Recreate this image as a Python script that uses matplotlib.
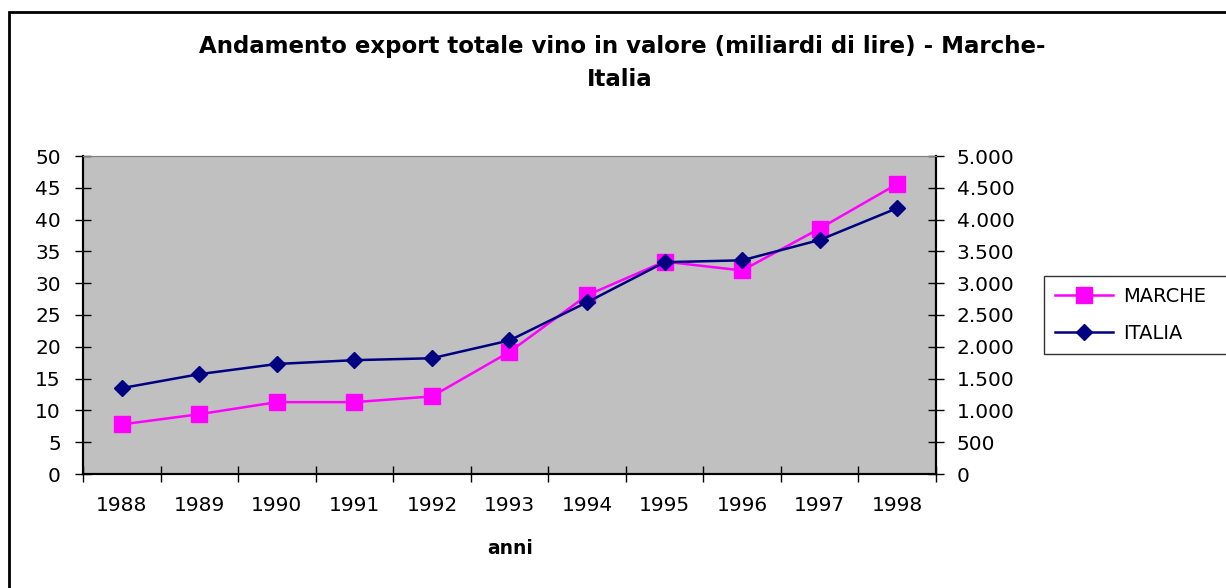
import matplotlib
matplotlib.use("Agg")
import matplotlib.pyplot as plt
from matplotlib.patches import Rectangle
from matplotlib.ticker import FuncFormatter

# data
anni = ["1988", "1989", "1990", "1991", "1992", "1993",
        "1994", "1995", "1996", "1997", "1998"]
marche = [7.8, 9.4, 11.3, 11.3, 12.2, 19.2, 28.1, 33.4, 32.0, 38.6, 45.6]
italia = [1350, 1570, 1730, 1790, 1820, 2100, 2700, 3330, 3360, 3680, 4180]

plt.rcParams['font.family'] = ['DejaVu Sans']

W, H = 1226, 588
fig = plt.figure(figsize=(W / 100, H / 100), dpi=100)

# outer chart border
fig.patches.append(Rectangle((9 / W, -0.02), 1.05, 1 - 12 / H + 0.02,
                             transform=fig.transFigure, fill=False,
                             edgecolor='black', linewidth=2))

ax = fig.add_axes([83 / W, 1 - 474 / H, (936 - 83) / W, (474 - 156) / H])
ax.set_facecolor('#C0C0C0')
ax2 = ax.twinx()

x = list(range(len(anni)))
ax.plot(x, marche, color='#FF00FF', marker='s', markersize=11, linewidth=1.8,
        label='MARCHE', zorder=3)
ax2.plot(x, italia, color='#000080', marker='D', markersize=8, linewidth=1.8,
         label='ITALIA', zorder=3)

ax.set_xlim(-0.5, len(anni) - 0.5)
ax.set_ylim(0, 50)
ax2.set_ylim(0, 5000)
ax.set_yticks(range(0, 51, 5))
ax2.set_yticks(range(0, 5001, 500))
ax2.yaxis.set_major_formatter(FuncFormatter(lambda v, p: f"{int(v):,}".replace(",", ".")))

# category ticks between the years, labels at centres
ax.set_xticks([i - 0.5 for i in range(len(anni) + 1)])
ax.set_xticklabels([])
ax.set_xticks(x, minor=True)
ax.set_xticklabels(anni, minor=True)
ax.tick_params(axis='x', which='major', direction='inout', length=12, width=1)
ax.tick_params(axis='x', which='minor', length=0, pad=16, labelsize=14.5)
ax.tick_params(axis='y', direction='inout', length=12, width=1, labelsize=14.5, pad=10)
ax2.tick_params(axis='y', direction='inout', length=12, width=1, labelsize=14.5, pad=9)

for a in (ax, ax2):
    a.spines['top'].set_color('#808080')
    for s in ('left', 'right', 'bottom'):
        a.spines[s].set_color('black')
        a.spines[s].set_linewidth(1.5)

fig.text(622 / W, 1 - 47 / H,
         "Andamento export totale vino in valore (miliardi di lire) - Marche-",
         ha='center', va='center', fontsize=16.5, fontweight='bold')
fig.text(620 / W, 1 - 79 / H, "Italia", ha='center', va='center',
         fontsize=16.5, fontweight='bold')
fig.text(510 / W, 1 - 548 / H, "anni", ha='center', va='center',
         fontsize=13.5, fontweight='bold')

# legend box runs off the right edge like in the original
h1, l1 = ax.get_legend_handles_labels()
h2, l2 = ax2.get_legend_handles_labels()
leg = fig.legend(h1 + h2, l1 + l2, loc='center left', mode='expand',
                 bbox_to_anchor=(1044 / W, 1 - 354 / H, 200 / W, 78 / H),
                 fontsize=14, frameon=True, fancybox=False,
                 edgecolor='black', handlelength=3, borderpad=0.55,
                 labelspacing=0.95, handletextpad=0.5, borderaxespad=0)
leg.get_frame().set_linewidth(1)

fig.savefig("out.png", dpi=100)
